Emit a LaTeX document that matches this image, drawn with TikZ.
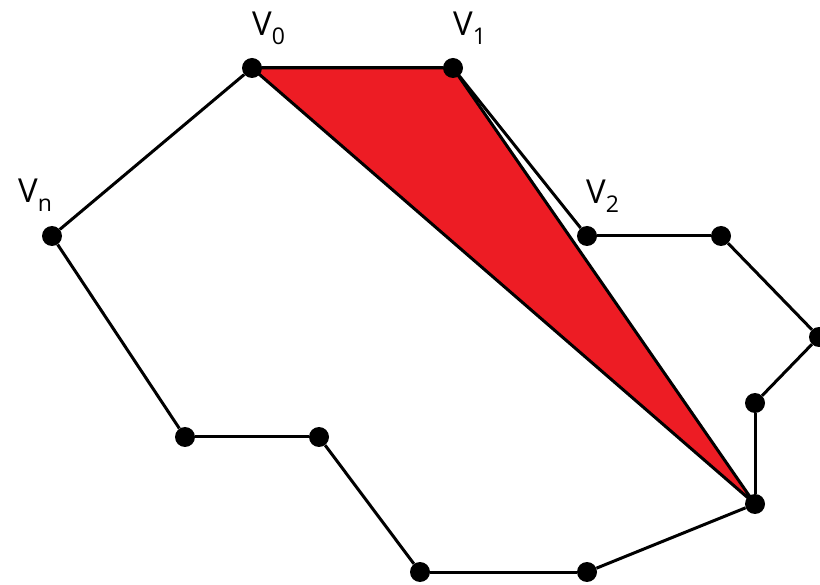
\documentclass[tikz,border=0pt]{standalone}
\usepackage{fontspec}
\setmainfont{Open Sans}
\usepackage{tikz}
\usetikzlibrary{backgrounds}
\definecolor{TriRed}{RGB}{237, 28, 36}

\newcommand{\vlabel}[1]{V\raisebox{-0.5ex}{\fontsize{23}{27}\selectfont #1}}

\begin{document}
\begin{tikzpicture}[
            x=1pt, y=-1pt,
            vertex/.style={circle, fill=black, inner sep=0pt, minimum size=20pt},
            edge/.style={line width=3pt, black},
            vname/.style={font=\fontsize{33}{40}\selectfont, anchor=base west, inner sep=0pt}
        ]
            \useasboundingbox (0,0) rectangle (820,585);
            \clip (0,0) rectangle (820,585);

            % polygon vertices
            \node[vertex] (v0) at (252,68) {};
            \node[vertex] (v1) at (453,68) {};
            \node[vertex] (v2) at (587,236) {};
            \node[vertex] (p3) at (721,236) {};
            \node[vertex] (p4) at (819,337) {};
            \node[vertex] (p5) at (755,403) {};
            \node[vertex] (p6) at (755,504) {};
            \node[vertex] (p7) at (587,572) {};
            \node[vertex] (p8) at (420,572) {};
            \node[vertex] (p9) at (319,437) {};
            \node[vertex] (p10) at (185,437) {};
            \node[vertex] (vn) at (52,236) {};

            % labels
            \node[vname] (l0) at (252,36) {\vlabel{0}};
            \node[vname] (l1) at (453,36) {\vlabel{1}};
            \node[vname] (l2) at (586,204) {\vlabel{2}};
            \node[vname] (ln) at (18,203) {\vlabel{n}};

            % red ear triangle
            \begin{pgfonlayer}{background}
                \filldraw[TriRed, draw=black, line width=3pt, line join=round]
                    (v0.center) -- (v1.center) -- (p6.center) -- cycle;
            \end{pgfonlayer}

            % boundary
            \draw[edge] (v0) -- (v1);
            \draw[edge] (v1) -- (v2);
            \draw[edge] (v2) -- (p3);
            \draw[edge] (p3) -- (p4);
            \draw[edge] (p4) -- (p5);
            \draw[edge] (p5) -- (p6);
            \draw[edge] (p6) -- (p7);
            \draw[edge] (p7) -- (p8);
            \draw[edge] (p8) -- (p9);
            \draw[edge] (p9) -- (p10);
            \draw[edge] (p10) -- (vn);
            \draw[edge] (vn) -- (v0);
        \end{tikzpicture}
\end{document}
